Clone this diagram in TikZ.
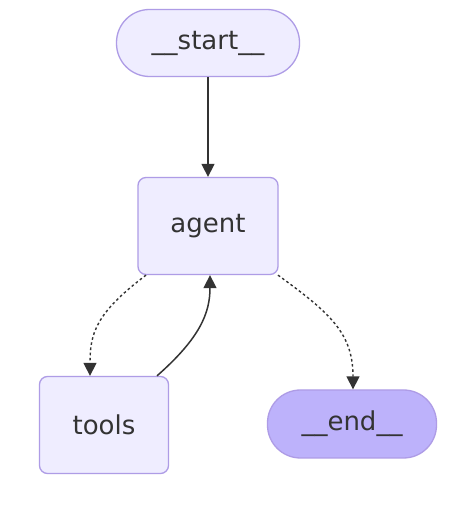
\documentclass[tikz,border=0pt]{standalone}
\usepackage{fontspec}
\setmainfont{DejaVu Sans}
\usetikzlibrary{arrows.meta}
\definecolor{nodefill}{HTML}{EFEDFF}
\definecolor{nodeline}{HTML}{AE9CE6}
\definecolor{endfill}{HTML}{BDB2FB}
\definecolor{inkgrey}{HTML}{333333}
\tikzset{
  graphnode/.style={draw=nodeline,fill=nodefill,line width=1.3pt,text=inkgrey,
    font=\fontsize{26}{30}\selectfont,rounded corners=8pt,inner sep=0pt},
  pill/.style={graphnode,rounded corners=33pt},
  edge/.style={draw=inkgrey,line width=1.5pt,-{Triangle[length=13pt,width=13pt]}},
  condedge/.style={edge,line width=1.4pt,dash pattern=on 2.6pt off 2.6pt}
}
\begin{document}
\begin{tikzpicture}[x=1pt,y=1pt]
  \useasboundingbox[fill=white] (0,0) rectangle (466,508);
  \node[pill,minimum width=183pt,minimum height=67pt] (start) at (208,465) {\_\_start\_\_};
  \node[graphnode,minimum width=140pt,minimum height=97pt] (agent) at (208,282) {agent};
  \node[graphnode,minimum width=129pt,minimum height=97pt] (tools) at (104,83) {tools};
  \node[pill,fill=endfill,minimum width=169pt,minimum height=68pt] (end) at (352,84) {\_\_end\_\_};
  \draw[edge] (start) -- (agent);
  \draw[condedge] ([xshift=-62pt]agent.south) .. controls (96,195) and (90,175) .. ([xshift=-14pt]tools.north);
  \draw[edge] ([xshift=53pt]tools.north) .. controls (200,170) and (210,195) .. ([xshift=2pt]agent.south);
  \draw[condedge] ([xshift=70pt]agent.south) .. controls (330,195) and (353,175) .. ([xshift=1pt]end.north);
\end{tikzpicture}
\end{document}
